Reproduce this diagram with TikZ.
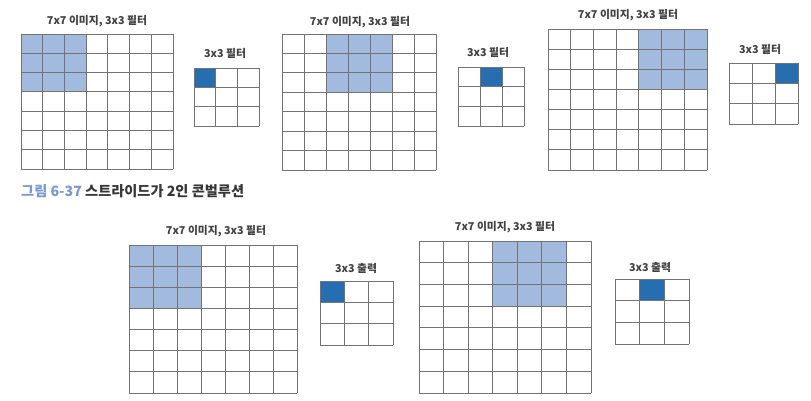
\documentclass[tikz,border=0pt]{standalone}
\usepackage{fontspec}
\setmainfont{Noto Sans CJK KR}
\definecolor{cellshade}{RGB}{161,186,222}
\definecolor{cellmark}{RGB}{38,110,175}
\definecolor{gridgray}{RGB}{115,115,115}
\definecolor{captionblue}{RGB}{120,152,212}
\definecolor{captiongray}{RGB}{55,55,55}
\usetikzlibrary{positioning}
% n x n cells between (x0,y0) and (x1,y1)
\newcommand{\cellgrid}[5]{%
  \foreach \k in {0,...,#5} {
    \draw[gridline] ({#1+\k*(#3-#1)/#5},#2) -- ({#1+\k*(#3-#1)/#5},#4);
    \draw[gridline] (#1,{#2+\k*(#4-#2)/#5}) -- (#3,{#2+\k*(#4-#2)/#5});
  }}

\begin{document}
\begin{tikzpicture}[x=1pt,y=-1pt,
    gridline/.style={gridgray,line width=0.8pt},
    gridtitle/.style={font=\fontsize{10.8}{12}\selectfont\bfseries,text=black!75,inner sep=0pt},
    figcaption/.style={font=\fontsize{14.2}{15}\selectfont\bfseries,text=captiongray,inner sep=0pt,anchor=west}]
    \useasboundingbox (0,0) rectangle (811,400);

    % stride 1, top row
    \fill[cellshade] (21,34) rectangle (86.1,91.9);
    \cellgrid{21}{34}{173}{169}{7}
    \node[gridtitle] (img1) at (97,21) {7x7 이미지, 3x3 필터};
    \fill[cellmark] (194,68) rectangle (215.7,87.3);
    \cellgrid{194}{68}{259}{126}{3}
    \node[gridtitle] (flt1) at (225,53) {3x3 필터};

    \fill[cellshade] (326,34) rectangle (392,92.3);
    \cellgrid{282}{34}{436}{170}{7}
    \node[gridtitle] (img2) at (360,22) {7x7 이미지, 3x3 필터};
    \fill[cellmark] (480,67) rectangle (502,86.7);
    \cellgrid{458}{67}{524}{126}{3}
    \node[gridtitle] (flt2) at (488,52) {3x3 필터};

    \fill[cellshade] (638.9,29) rectangle (707,89.4);
    \cellgrid{548}{29}{707}{170}{7}
    \node[gridtitle] (img3) at (628,15) {7x7 이미지, 3x3 필터};
    \fill[cellmark] (775,63) rectangle (798,83.3);
    \cellgrid{729}{63}{798}{124}{3}
    \node[gridtitle] (flt3) at (760,49) {3x3 필터};

    \node[figcaption] (fig) at (21,191) {{\color{captionblue}그림 6-37} 스트라이드가 2인 콘벌루션};

    % stride 2, bottom row
    \fill[cellshade] (129,245) rectangle (201,308.4);
    \cellgrid{129}{245}{297}{393}{7}
    \node[gridtitle] (img4) at (216,231) {7x7 이미지, 3x3 필터};
    \fill[cellmark] (320,281) rectangle (344.3,302.3);
    \cellgrid{320}{281}{393}{345}{3}
    \node[gridtitle] (out4) at (356,268) {3x3 출력};

    \fill[cellshade] (492.7,241) rectangle (566.4,306.1);
    \cellgrid{419}{241}{591}{393}{7}
    \node[gridtitle] (img5) at (505,227) {7x7 이미지, 3x3 필터};
    \fill[cellmark] (639.7,279) rectangle (664.3,300.7);
    \cellgrid{615}{279}{689}{344}{3}
    \node[gridtitle] (out5) at (650,267) {3x3 출력};
\end{tikzpicture}
\end{document}
